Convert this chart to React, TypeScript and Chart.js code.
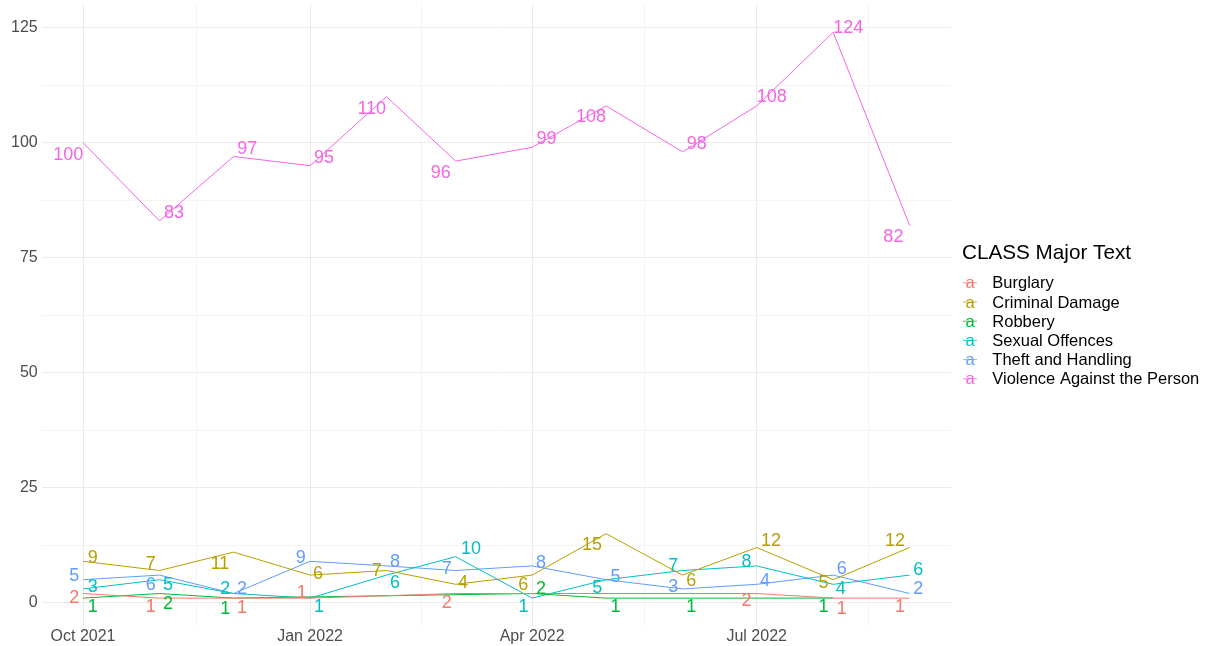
import React, { useEffect, useRef } from "react";
import { Chart, registerables } from "chart.js";

Chart.register(...registerables);

// ---------- DATA ----------
const months = [
  "2021-10-01", "2021-11-01", "2021-12-01", "2022-01-01", "2022-02-01", "2022-03-01",
  "2022-04-01", "2022-05-01", "2022-06-01", "2022-07-01", "2022-08-01", "2022-09-01",
];

const seriesNames = [
  "Burglary",
  "Criminal Damage",
  "Robbery",
  "Sexual Offences",
  "Theft and Handling",
  "Violence Against the Person",
];

const seriesColors = ["#F8766D", "#B79F00", "#00BA38", "#00BFC4", "#619CFF", "#F564E3"];

const burglary = [2, 1, 1, 1, null, 2, null, null, null, 2, 1, 1];
const criminalDamage = [9, 7, 11, 6, 7, 4, 6, 15, 6, 12, 5, 12];
const robbery = [1, 2, 1, null, null, null, 2, 1, 1, null, 1, null];
const sexualOffences = [3, 5, 2, 1, 6, 10, 1, 5, 7, 8, 4, 6];
const theftHandling = [5, 6, 2, 9, 8, 7, 8, 5, 3, 4, 6, 2];
const violence = [100, 83, 97, 95, 110, 96, 99, 108, 98, 108, 124, 82];

// label jitter (x in days, y in value units)
const burglaryJitterX = [-3.6, -3.6, 3.4, -3.4, null, -3.6, null, null, null, -4.1, 3.5, -3.9];
const burglaryJitterY = [-0.8, -1.7, -1.9, 1.3, null, -1.85, null, null, null, -1.4, -2.1, -1.7];
const criminalJitterX = [3.9, -3.6, -5.5, 3.2, -4.0, 3.0, -3.6, -5.7, 3.5, 5.8, -3.9, -5.9];
const criminalJitterY = [0.9, 1.6, -2.4, 0.5, 0.1, 0.5, -1.9, -2.2, -1.1, 1.6, -0.5, 1.6];
const robberyJitterX = [3.9, 3.4, -3.4, null, null, null, 3.6, 3.8, 3.5, null, -3.9, null];
const robberyJitterY = [-1.7, -2.1, -2.15, null, null, null, 1.2, -1.7, -1.7, null, -1.7, null];
const sexualJitterX = [3.9, 3.4, -3.4, 3.6, 3.4, 6.2, -3.5, -3.6, -3.8, -4.1, 3.1, 3.5];
const sexualJitterY = [0.6, -0.9, 1.2, -1.7, -1.5, 1.9, -1.7, -1.6, 1.2, 1.1, -0.8, 1.25];
const theftJitterX = [-3.6, -3.6, 3.4, -3.8, 3.4, -3.6, 3.6, 3.8, -3.8, 3.4, 3.5, 3.5];
const theftJitterY = [1.0, -1.9, 1.2, 0.9, 1.1, 0.5, 0.9, 0.8, 0.6, 0.9, 1.5, 1.2];
const violenceJitterX = [-6.0, 5.9, 5.6, 5.7, -6.0, -6.0, 5.8, -6.1, 5.7, 6.1, 6.1, -6.6];
const violenceJitterY = [-2.5, 2.0, 1.8, 1.8, -2.5, -2.3, 2.0, -2.3, 2.0, 2.2, 1.2, -2.3];

const xTickDates = ["2021-10-01", "2022-01-01", "2022-04-01", "2022-07-01"];
const xTickLabels = ["Oct 2021", "Jan 2022", "Apr 2022", "Jul 2022"];
const yTickValues = [0, 25, 50, 75, 100, 125];

const legendTitle = "CLASS Major Text";

// ---------- helpers ----------
const FONT = "'Liberation Sans', Arial, Helvetica, sans-serif";
const DAY = 86400000;
const dayOf = (s: string) => Math.round((Date.parse(s) - Date.parse(months[0])) / DAY);
const monthDays = months.map(dayOf);

const allValues = [burglary, criminalDamage, robbery, sexualOffences, theftHandling, violence];
const allJX = [burglaryJitterX, criminalJitterX, robberyJitterX, sexualJitterX, theftJitterX, violenceJitterX];
const allJY = [burglaryJitterY, criminalJitterY, robberyJitterY, sexualJitterY, theftJitterY, violenceJitterY];

const flatVals = allValues.flat().filter((v) => v !== null) as number[];
const yMinD = Math.min(...flatVals);
const yMaxD = Math.max(...flatVals);
const yExp = (yMaxD - yMinD) * 0.05;
const xMinD = monthDays[0];
const xMaxD = monthDays[monthDays.length - 1];
const xExp = (xMaxD - xMinD) * 0.05;

const xMajor = xTickDates.map(dayOf);
const xMinor: number[] = [];
for (let i = 0; i < xMajor.length; i++) {
  const step = i < xMajor.length - 1 ? xMajor[i + 1] - xMajor[i] : xMajor[i] - xMajor[i - 1];
  const m = xMajor[i] + step / 2;
  if (m <= xMaxD + xExp) xMinor.push(m);
}
const yMinor: number[] = [];
for (let i = 0; i < yTickValues.length - 1; i++) yMinor.push((yTickValues[i] + yTickValues[i + 1]) / 2);

const datasets = allValues.map((vals, si) => ({
  label: seriesNames[si],
  data: vals
    .map((v, i) => (v === null ? null : { x: monthDays[i], y: v }))
    .filter((p) => p !== null) as { x: number; y: number }[],
  borderColor: seriesColors[si],
  backgroundColor: seriesColors[si],
  borderWidth: 1,
  pointRadius: 0,
  tension: 0,
  fill: false,
}));

const textLabelPlugin = {
  id: "textLabels",
  afterDatasetsDraw(chart: any) {
    const ctx = chart.ctx;
    const xs = chart.scales.x;
    const ys = chart.scales.y;
    ctx.save();
    ctx.font = `18px ${FONT}`;
    ctx.textAlign = "center";
    ctx.textBaseline = "middle";
    allValues.forEach((vals, si) => {
      ctx.fillStyle = seriesColors[si];
      vals.forEach((v, i) => {
        if (v === null) return;
        const jx = (allJX[si][i] as number) || 0;
        const jy = (allJY[si][i] as number) || 0;
        const px = xs.getPixelForValue(monthDays[i] + jx);
        const py = ys.getPixelForValue(v + jy);
        ctx.fillText(String(v), px, py + 1);
      });
    });
    ctx.restore();
  },
};

const legendPlugin = {
  id: "ggLegend",
  afterDraw(chart: any) {
    const ctx = chart.ctx;
    ctx.save();
    ctx.fillStyle = "#000";
    ctx.font = `20.7px ${FONT}`;
    ctx.textAlign = "left";
    ctx.textBaseline = "alphabetic";
    ctx.fillText(legendTitle, 962, 259);
    const b0 = 288.3;
    const step = 19.2;
    seriesNames.forEach((name, i) => {
      const by = b0 + i * step;
      // key line
      ctx.strokeStyle = seriesColors[i];
      ctx.globalAlpha = 0.75;
      ctx.lineWidth = 1;
      ctx.beginPath();
      ctx.moveTo(963, by - 5.5);
      ctx.lineTo(977, by - 5.5);
      ctx.stroke();
      ctx.globalAlpha = 1;
      // key "a"
      ctx.fillStyle = seriesColors[i];
      ctx.font = `16.5px ${FONT}`;
      ctx.textAlign = "center";
      ctx.fillText("a", 970, by);
      // label
      ctx.fillStyle = "#000";
      ctx.font = `16.5px ${FONT}`;
      ctx.textAlign = "left";
      ctx.fillText(name, 992.3, by);
    });
    ctx.restore();
  },
};

export default function App() {
  const ref = useRef<HTMLCanvasElement>(null);

  useEffect(() => {
    if (!ref.current) return;
    const majorX = new Set(xMajor);
    const majorY = new Set(yTickValues);
    const chart = new Chart(ref.current, {
      type: "line",
      data: { datasets: datasets as any },
      options: {
        animation: false,
        responsive: false,
        maintainAspectRatio: false,
        layout: { padding: { left: 0, top: 4, right: 261, bottom: 0 } },
        plugins: {
          legend: { display: false },
          tooltip: { enabled: false },
          title: { display: false },
        },
        scales: {
          x: {
            type: "linear",
            min: xMinD - xExp,
            max: xMaxD + xExp,
            afterBuildTicks: (scale: any) => {
              scale.ticks = [...xMajor, ...xMinor].sort((a, b) => a - b).map((v) => ({ value: v }));
            },
            afterFit: (scale: any) => {
              scale.height = 19.6;
              scale.paddingLeft = 0;
              scale.paddingRight = 0;
            },
            grid: {
              drawTicks: false,
              color: (c: any) => (majorX.has(c.tick?.value) ? "#EBEBEB" : "#F4F4F4"),
              lineWidth: 1,
            },
            border: { display: false },
            ticks: {
              autoSkip: false,
              maxRotation: 0,
              padding: 1,
              color: "#4D4D4D",
              font: { family: FONT, size: 16 },
              callback: (v: any) => {
                const idx = xMajor.indexOf(Number(v));
                return idx >= 0 ? xTickLabels[idx] : "";
              },
            },
          },
          y: {
            type: "linear",
            min: yMinD - yExp,
            max: yMaxD + yExp,
            afterBuildTicks: (scale: any) => {
              scale.ticks = [...yTickValues, ...yMinor].sort((a, b) => a - b).map((v) => ({ value: v }));
            },
            afterFit: (scale: any) => {
              scale.width = 41.7;
              scale.paddingTop = 0;
              scale.paddingBottom = 0;
            },
            grid: {
              drawTicks: false,
              color: (c: any) => (majorY.has(c.tick?.value) ? "#EBEBEB" : "#F4F4F4"),
              lineWidth: 1,
            },
            border: { display: false },
            ticks: {
              autoSkip: false,
              padding: 4,
              color: "#4D4D4D",
              font: { family: FONT, size: 16 },
              callback: (v: any) => (majorY.has(Number(v)) ? String(v) : ""),
            },
          },
        },
      },
      plugins: [textLabelPlugin, legendPlugin],
    });
    return () => chart.destroy();
  }, []);

  return (
    <div style={{ position: "fixed", left: 0, top: 0, width: 1212, height: 646, background: "#fff" }}>
      <canvas ref={ref} width={1212} height={646} style={{ display: "block" }} />
    </div>
  );
}
